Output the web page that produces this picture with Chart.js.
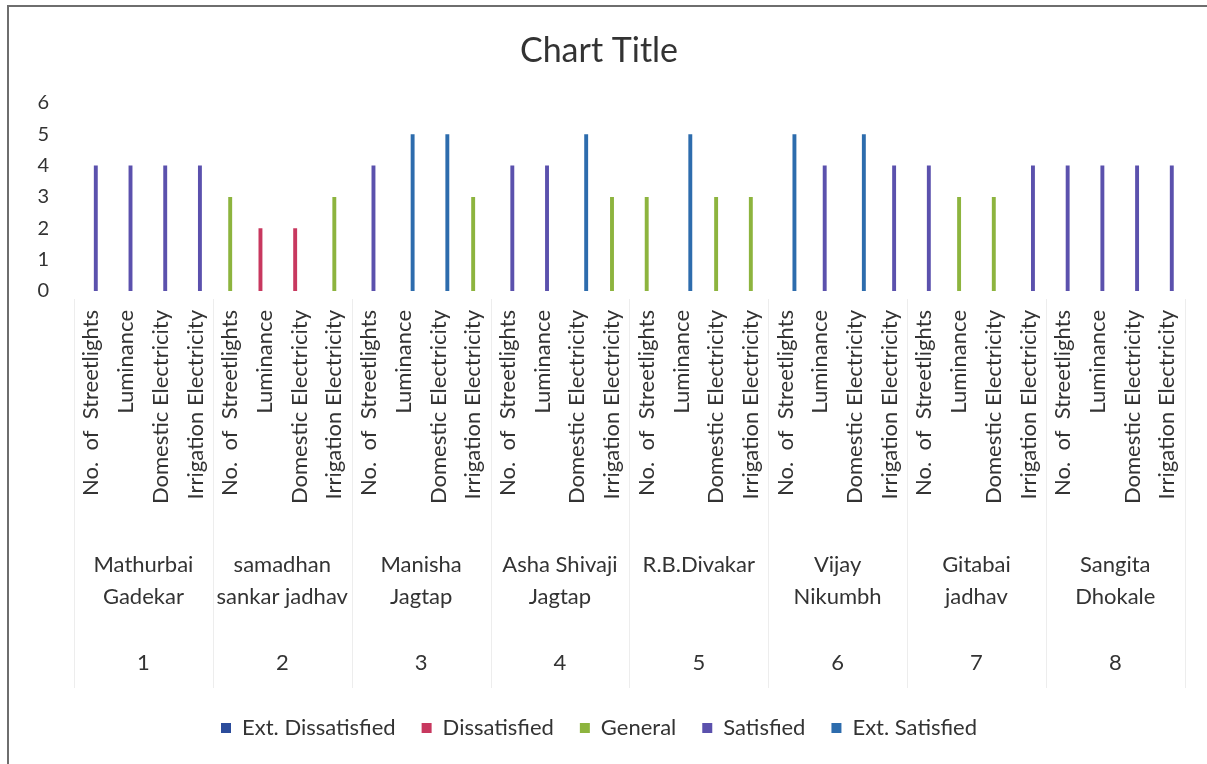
<!DOCTYPE html>
<html>
<head>
<meta charset="utf-8">
<script src="https://cdn.jsdelivr.net/npm/chart.js@4.4.1/dist/chart.umd.min.js"></script>
<style>
  html, body { margin: 0; padding: 0; background: #fff; overflow: hidden; }
  #frame { position: absolute; left: 7px; top: 5px; width: 1200px; height: 762px; border: 2px solid #6e6e6e; border-bottom: none; border-right: none; box-sizing: border-box; }
  #c { display: block; }
</style>
</head>
<body>
<div id="frame"><canvas id="c" width="1196" height="757"></canvas></div>
<script>
// ---- data ----
const subCategories = ["No.  of  Streetlights", "Luminance", "Domestic Electricity", "Irrigation Electricity"];
const groupNames = [["Mathurbai", "Gadekar"], ["samadhan", "sankar jadhav"], ["Manisha", "Jagtap"], ["Asha Shivaji", "Jagtap"], ["R.B.Divakar"], ["Vijay", "Nikumbh"], ["Gitabai", "jadhav"], ["Sangita", "Dhokale"]];
const groupNumbers = ["1", "2", "3", "4", "5", "6", "7", "8"];
const seriesNames = ["Ext. Dissatisfied", "Dissatisfied", "General", "Satisfied", "Ext. Satisfied"];
const extDissatisfied = [null,null,null,null, null,null,null,null, null,null,null,null, null,null,null,null, null,null,null,null, null,null,null,null, null,null,null,null, null,null,null,null];
const dissatisfied    = [null,null,null,null, null,2,2,null, null,null,null,null, null,null,null,null, null,null,null,null, null,null,null,null, null,null,null,null, null,null,null,null];
const general         = [null,null,null,null, 3,null,null,3, null,null,null,3, null,null,null,3, 3,null,3,3, null,null,null,null, null,3,3,null, null,null,null,null];
const satisfied       = [4,4,4,4, null,null,null,null, 4,null,null,null, 4,4,null,null, null,null,null,null, null,4,null,4, 4,null,null,4, 4,4,4,4];
const extSatisfied    = [null,null,null,null, null,null,null,null, null,5,5,null, null,null,5,null, null,5,null,null, 5,null,5,null, null,null,null,null, null,null,null,null];
const yTicks = [0, 1, 2, 3, 4, 5, 6];
const seriesColors = ["#2b4c9b", "#c8385f", "#8db43e", "#5b51ad", "#2d6cad"];

const labels = [];
groupNames.forEach(() => subCategories.forEach(s => labels.push(s)));
const seriesData = [extDissatisfied, dissatisfied, general, satisfied, extSatisfied];

const FONT = "Lato, 'Open Sans', sans-serif";
const TEXT = "#333333";

const groupPlugin = {
  id: 'groupLabels',
  afterDraw(chart) {
    const ctx = chart.ctx;
    const xs = chart.scales.x;
    const bottom = chart.chartArea.bottom;
    const n = subCategories.length;
    const half = (xs.getPixelForValue(1) - xs.getPixelForValue(0)) / 2;
    ctx.save();
    ctx.strokeStyle = "#ededed";
    ctx.lineWidth = 1;
    for (let g = 0; g <= groupNames.length; g++) {
      const x = g < groupNames.length ? xs.getPixelForValue(g * n) - half : xs.getPixelForValue(g * n - 1) + half;
      ctx.beginPath();
      ctx.moveTo(Math.round(x) + 0.5, bottom + 8);
      ctx.lineTo(Math.round(x) + 0.5, bottom + 397);
      ctx.stroke();
    }
    ctx.fillStyle = TEXT;
    ctx.font = "22px " + FONT;
    ctx.textAlign = "center";
    ctx.textBaseline = "middle";
    groupNames.forEach((lines, g) => {
      const cx = (xs.getPixelForValue(g * n) + xs.getPixelForValue(g * n + n - 1)) / 2;
      lines.forEach((t, i) => ctx.fillText(t, cx, bottom + 274 + i * 32));
      ctx.fillText(groupNumbers[g], cx, bottom + 372);
    });
    ctx.restore();
  }
};

new Chart(document.getElementById('c'), {
  type: 'bar',
  data: {
    labels: labels,
    datasets: seriesNames.map((name, i) => ({
      label: name,
      data: seriesData[i],
      backgroundColor: seriesColors[i],
      borderWidth: 0,
      categoryPercentage: 0.64,
      barPercentage: 0.88
    }))
  },
  options: {
    responsive: false,
    animation: false,
    devicePixelRatio: 1,
    layout: { padding: { left: 0, right: 16, top: 0, bottom: 15 } },
    plugins: {
      title: {
        display: true,
        text: "Chart Title",
        color: TEXT,
        font: { family: FONT, size: 34, weight: 'normal' },
        padding: { top: 24, bottom: 31 }
      },
      legend: {
        position: 'bottom',
        labels: {
          color: TEXT,
          font: { family: FONT, size: 22 },
          boxWidth: 10,
          boxHeight: 10,
          padding: 26
        }
      },
      tooltip: { enabled: false }
    },
    scales: {
      x: {
        grid: { display: false },
        border: { display: false },
        ticks: {
          color: TEXT,
          font: { family: FONT, size: 22 },
          minRotation: 90,
          maxRotation: 90,
          autoSkip: false,
          padding: 11
        },
        afterFit(scale) { scale.height = 400; }
      },
      y: {
        min: 0,
        max: 6,
        grid: { display: false },
        border: { display: false },
        afterFit(scale) { scale.width = 65; },
        afterBuildTicks(scale) { scale.ticks = yTicks.map(v => ({ value: v })); },
        ticks: {
          color: TEXT,
          font: { family: FONT, size: 20 },
          padding: 17
        }
      }
    }
  },
  plugins: [groupPlugin]
});
</script>
</body>
</html>
